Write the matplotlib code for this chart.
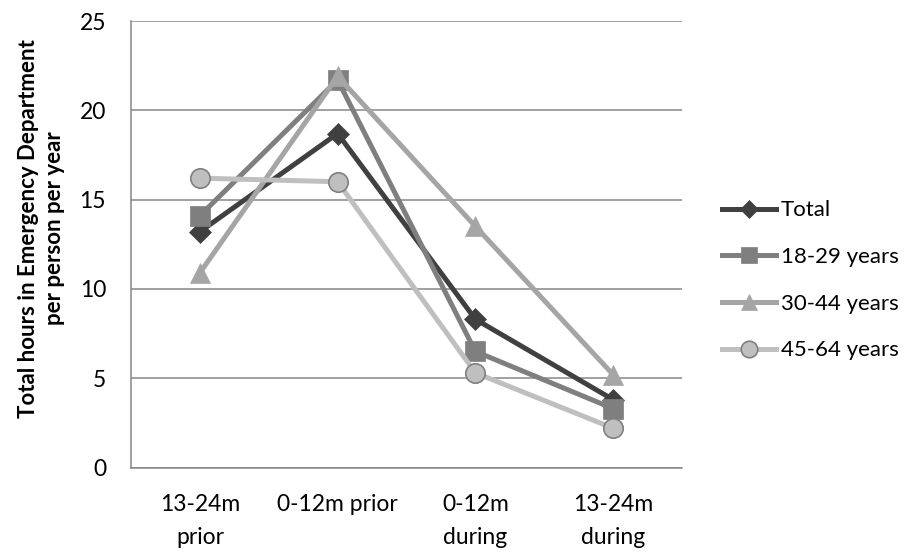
import matplotlib
matplotlib.use("Agg")
import matplotlib.pyplot as plt

# Emergency Department hours per person per year, by period and age group
periods = ["13-24m\nprior", "0-12m prior", "0-12m\nduring", "13-24m\nduring"]
total = [13.2, 18.7, 8.3, 3.8]
age_18_29 = [14.1, 21.7, 6.5, 3.3]
age_30_44 = [10.9, 21.9, 13.5, 5.2]
age_45_64 = [16.2, 16.0, 5.3, 2.2]
y_ticks = [0, 5, 10, 15, 20, 25]

plt.rcParams["font.family"] = ["Lato", "DejaVu Sans"]

fig = plt.figure(figsize=(9.12, 5.54), dpi=100)
ax = fig.add_axes([131 / 912, 1 - 467.5 / 554, (682 - 131) / 912, (467.5 - 21) / 554])

x = list(range(len(periods)))
series = [
    ("Total", total, "#404040", "D", 11, "#404040"),
    ("18-29 years", age_18_29, "#7f7f7f", "s", 14, "#7f7f7f"),
    ("30-44 years", age_30_44, "#a5a5a5", "^", 14, "#a5a5a5"),
    ("45-64 years", age_45_64, "#bfbfbf", "o", 14, "#808080"),
]
for i, (name, vals, col, mk, ms, edge) in enumerate(series):
    ax.plot(x, vals, color=col, lw=3.6, marker=mk, markersize=ms,
            markerfacecolor=col, markeredgecolor=edge,
            markeredgewidth=1.2 if mk == "o" else 0.5,
            label=name, zorder=3 + i, solid_joinstyle="miter")

ax.set_xlim(-0.5, len(periods) - 0.5)
ax.set_ylim(0, 25)
ax.set_yticks(y_ticks)
ax.set_xticks(x)
ax.set_xticklabels(periods, linespacing=1.7)
ax.yaxis.grid(True, color="#868686", lw=1.1)
ax.set_axisbelow(True)
for s in ("top", "right"):
    ax.spines[s].set_visible(False)
for s in ("left", "bottom"):
    ax.spines[s].set_color("#868686")
    ax.spines[s].set_linewidth(1.1)
ax.tick_params(axis="both", length=0, labelsize=16.5, colors="black")
ax.tick_params(axis="y", pad=18)
ax.tick_params(axis="x", pad=19)

ax.set_ylabel("Total hours in Emergency Department\nper person per year",
              fontsize=16, fontweight="bold", multialignment="center",
              linespacing=1.3)
ax.yaxis.set_label_coords(-0.12, 0.535)

fig.legend(loc="center left", bbox_to_anchor=(722 / 912, 1 - 280.5 / 554),
           frameon=False, fontsize=16, handlelength=2.45, handletextpad=0.2,
           labelspacing=1.2, borderpad=0, borderaxespad=0, markerscale=0.85)

fig.savefig("out.png", dpi=100, facecolor="white")
